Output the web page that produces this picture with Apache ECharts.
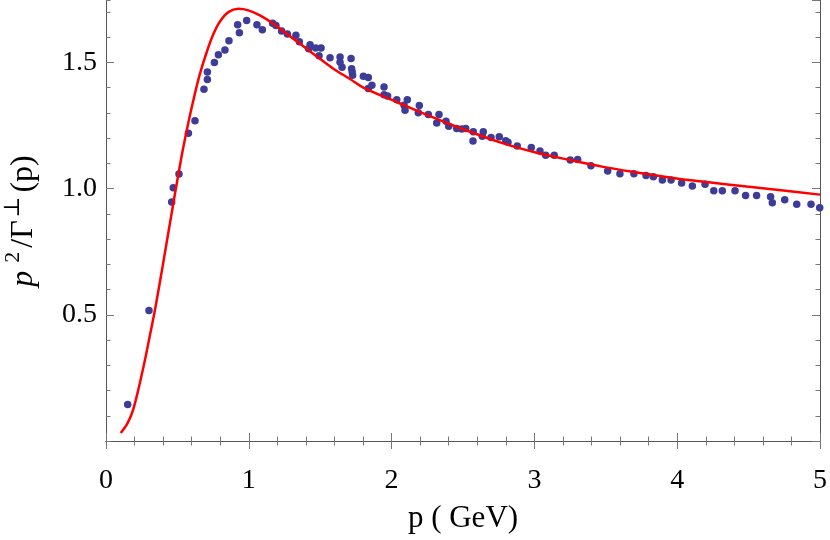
<!DOCTYPE html>
<html>
<head>
<meta charset="utf-8">
<script src="https://cdn.jsdelivr.net/npm/echarts@6/dist/echarts.min.js"></script>
<style>
  html, body { margin: 0; padding: 0; background: #fff; }
  #chart { width: 830px; height: 540px; }
</style>
</head>
<body>
<div id="chart"></div>
<script>
// measured points (dots)
var dotP = [0.152, 0.301, 0.46, 0.471, 0.511, 0.577, 0.623, 0.686, 0.71, 0.71,
  0.759, 0.787, 0.833, 0.861, 0.922, 0.934, 0.985, 1.057, 1.095, 1.167,
  1.19, 1.23, 1.27, 1.33, 1.354, 1.429, 1.419, 1.468, 1.506, 1.492,
  1.569, 1.639, 1.639, 1.653, 1.716, 1.72, 1.724, 1.727, 1.802, 1.837,
  1.837, 1.862, 1.947, 1.947, 1.972, 2.036, 2.11, 2.087, 2.094, 2.194,
  2.187, 2.257, 2.332, 2.316, 2.381, 2.40, 2.456, 2.491, 2.519, 2.572,
  2.570, 2.635, 2.642, 2.696, 2.754, 2.799, 2.815, 2.880, 2.978, 3.039,
  3.079, 3.139, 3.251, 3.303, 3.396, 3.513, 3.599, 3.697, 3.782, 3.833,
  3.896, 3.957, 4.031, 4.106, 4.195, 4.256, 4.316, 4.405, 4.479, 4.556,
  4.654, 4.666, 4.753, 4.837, 4.937, 4.998];
var dotV = [0.145, 0.517, 0.947, 1.003, 1.058, 1.219, 1.269, 1.393, 1.432, 1.462,
  1.499, 1.530, 1.549, 1.586, 1.649, 1.617, 1.666, 1.649, 1.629, 1.655,
  1.646, 1.624, 1.612, 1.607, 1.582, 1.570, 1.554, 1.557, 1.557, 1.526,
  1.518, 1.521, 1.500, 1.481, 1.515, 1.475, 1.462, 1.449, 1.445, 1.440,
  1.396, 1.409, 1.402, 1.372, 1.367, 1.352, 1.352, 1.330, 1.310, 1.329,
  1.300, 1.293, 1.293, 1.260, 1.267, 1.247, 1.238, 1.236, 1.238, 1.225,
  1.188, 1.207, 1.225, 1.202, 1.205, 1.189, 1.183, 1.169, 1.163, 1.149,
  1.132, 1.132, 1.113, 1.115, 1.090, 1.070, 1.059, 1.059, 1.052, 1.047,
  1.034, 1.034, 1.022, 1.010, 1.017, 0.991, 0.991, 0.991, 0.973, 0.973,
  0.968, 0.944, 0.956, 0.938, 0.938, 0.924];

// fitted curve
var curveP = [0.103, 0.15, 0.191, 0.261, 0.308, 0.343, 0.396, 0.471, 0.535, 0.58,
  0.62, 0.658, 0.705, 0.752, 0.798, 0.857, 0.927, 0.997, 1.078, 1.172,
  1.265, 1.359, 1.475, 1.592, 1.709, 1.802, 2.036, 2.269, 2.502, 2.782,
  3.016, 3.249, 3.482, 3.739, 4.02, 4.22, 4.486, 4.68, 5.0];
var curveV = [0.032, 0.07, 0.125, 0.29, 0.42, 0.52, 0.69, 0.94, 1.145, 1.27,
  1.37, 1.455, 1.54, 1.612, 1.662, 1.699, 1.712, 1.706, 1.686, 1.653,
  1.613, 1.574, 1.524, 1.475, 1.434, 1.40, 1.343, 1.287, 1.235, 1.179,
  1.142, 1.113, 1.086, 1.062, 1.038, 1.025, 1.008, 0.996, 0.976];

var xTicks = { min: 0, max: 5, major: 1, minorSplit: 5 };
var yTicks = { min: 0, max: 1.747, major: 0.5, minor: 0.1 };

var dots = dotP.map(function (p, i) { return [p, dotV[i]]; });
var curve = curveP.map(function (p, i) { return [p, curveV[i]]; });

var FONT = '"Liberation Serif", "DejaVu Serif", serif';
var lineCol = '#555';
var tickCol = '#777';

function xAx(pos, labels) {
  return {
    type: 'value', position: pos, min: xTicks.min, max: xTicks.max, interval: xTicks.major,
    axisLine: { show: true, lineStyle: { color: lineCol, width: 1 } },
    axisTick: { show: true, inside: true, length: 8, lineStyle: { color: tickCol } },
    minorTick: { show: true, splitNumber: xTicks.minorSplit, length: 4.5, lineStyle: { color: tickCol } },
    splitLine: { show: false },
    axisLabel: { show: labels, fontFamily: FONT, fontSize: 28, color: '#000', margin: 26 },
    name: labels ? 'p ( GeV)' : '',
    nameLocation: 'middle', nameGap: 62,
    nameTextStyle: { fontFamily: FONT, fontSize: 31, color: '#000' }
  };
}

function yAx(pos, minor, labels) {
  var a = {
    type: 'value', position: pos, min: yTicks.min, max: yTicks.max,
    interval: minor ? yTicks.minor : yTicks.major,
    axisLine: { show: !minor, lineStyle: { color: lineCol, width: 1 } },
    axisTick: { show: true, inside: true, length: minor ? 4.5 : 8, lineStyle: { color: tickCol } },
    splitLine: { show: false },
    axisLabel: {
      show: labels, fontFamily: FONT, fontSize: 28, color: '#000', margin: 9,
      showMinLabel: false, showMaxLabel: false,
      formatter: function (v) { return v.toFixed(1); }
    }
  };
  if (labels) {
    a.name = '{it|p}{sup|2}{n|/Γ}{sup2|⊥}{n|(p)}';
    a.nameLocation = 'middle';
    a.nameGap = 66;
    a.nameRotate = 90;
    a.nameTextStyle = {
      fontFamily: FONT, color: '#000',
      rich: {
        it: { fontFamily: FONT, fontSize: 32, fontStyle: 'italic', color: '#000', verticalAlign: 'bottom', lineHeight: 38 },
        n: { fontFamily: FONT, fontSize: 32, color: '#000', verticalAlign: 'bottom', lineHeight: 38, padding: [0, 1, 0, 1] },
        sup: { fontFamily: FONT, fontSize: 22, color: '#000', verticalAlign: 'top', lineHeight: 38, padding: [0, 3, 0, 8] },
        sup2: { fontFamily: FONT, fontSize: 22, color: '#000', verticalAlign: 'top', lineHeight: 38, padding: [0, 3, 0, 2] }
      }
    };
  }
  return a;
}

var chart = echarts.init(document.getElementById('chart'), null, { renderer: 'canvas' });
chart.setOption({
  animation: false,
  backgroundColor: '#fff',
  grid: { left: 106, right: 10, top: 0, bottom: 99, containLabel: false, outerBoundsMode: 'none' },
  xAxis: [xAx('bottom', true), xAx('top', false)],
  yAxis: [yAx('left', false, true), yAx('left', true, false), yAx('right', false, false), yAx('right', true, false)],
  series: [
    {
      type: 'scatter', xAxisIndex: 0, yAxisIndex: 0,
      data: dots, symbol: 'circle', symbolSize: 7.5,
      itemStyle: { color: '#3d3d99', opacity: 1 }
    },
    {
      type: 'line', xAxisIndex: 0, yAxisIndex: 0,
      data: curve, smooth: 0.35, showSymbol: false,
      lineStyle: { color: '#ff0000', width: 2.5 }
    }
  ]
});
</script>
</body>
</html>
